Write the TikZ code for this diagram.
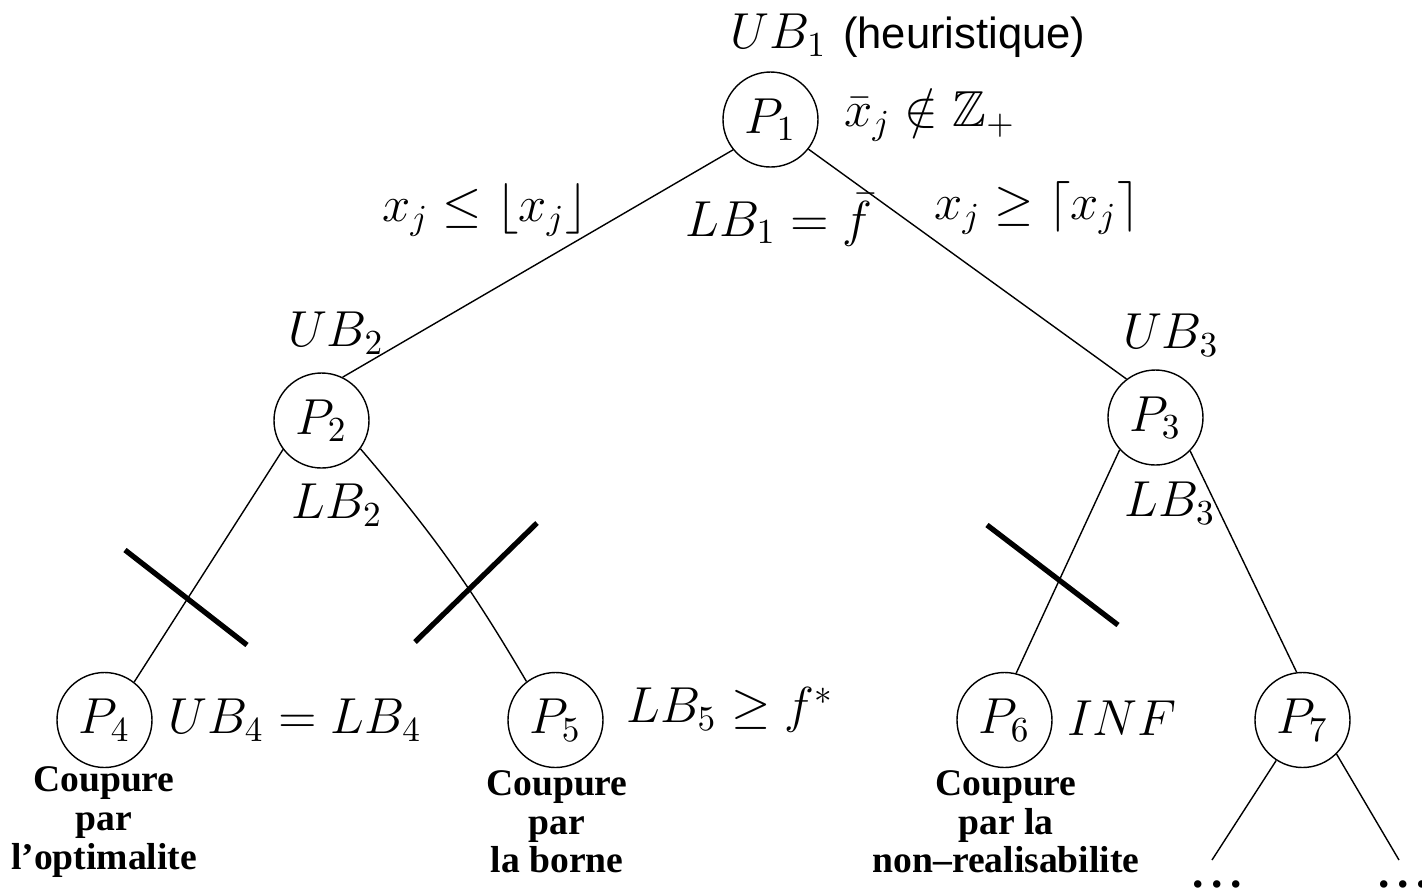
\documentclass[tikz,border=0pt]{standalone}
\usepackage{amsmath,amssymb}
\usepackage{fontspec}
\usepackage{tikz}
\usetikzlibrary{positioning}
\newfontfamily\heurfont{Liberation Sans}
\newfontfamily\cutfont{Liberation Serif}

\begin{document}
\begin{tikzpicture}[prob/.style={draw,circle,thin,minimum size=9.5mm,inner sep=0pt,font=\Large},
  lbl/.style={font=\Large,inner sep=0pt},
  cut/.style={font=\cutfont\bfseries\fontsize{10.7}{11}\selectfont,align=center,inner sep=0pt},
  cross/.style={line width=1.5pt}]
\useasboundingbox (0,0) rectangle (14.22,-8.91);
% problems
\node[prob] (P1) at (7.705,-1.195) {$P_1$};
\node[prob] (P2) at (3.215,-4.205) {$P_2$};
\node[prob] (P3) at (11.555,-4.175) {$P_3$};
\node[prob] (P4) at (1.045,-7.2) {$P_4$};
\node[prob] (P5) at (5.555,-7.2) {$P_5$};
\node[prob] (P6) at (10.045,-7.2) {$P_6$};
\node[prob] (P7) at (13.025,-7.2) {$P_7$};
\coordinate (e1) at (12.12,-8.6);
\coordinate (e2) at (13.99,-8.6);
\node[cut,font=\cutfont\bfseries\fontsize{13}{13}\selectfont] (dotsL) at (12.17,-8.84) {.\,.\,.};
\node[cut,font=\cutfont\bfseries\fontsize{13}{13}\selectfont] (dotsR) at (14.03,-8.84) {.\,.\,.};
% bounds
\node[lbl] (ub1) at (9.08,-0.36) {$UB_1$ {\heurfont\fontsize{12.4}{15}\selectfont (heuristique)}};
\node[lbl] (frac) at (9.30,-1.15) {$\bar{x}_j \notin \mathbb{Z}_+$};
\node[lbl] (brL) at (4.85,-2.1) {$x_j \leq \lfloor x_j \rfloor$};
\node[lbl] (lb1) at (7.79,-2.2) {$LB_1 = \bar{f}$};
\node[lbl] (brR) at (10.37,-2.08) {$x_j \geq \lceil x_j \rceil$};
\node[lbl] (ub2) at (3.36,-3.33) {$UB_2$};
\node[lbl] (ub3) at (11.71,-3.35) {$UB_3$};
\node[lbl] (lb2) at (3.37,-5.05) {$LB_2$};
\node[lbl] (lb3) at (11.70,-5.03) {$LB_3$};
\node[lbl] (ub4) at (2.95,-7.2) {$UB_4 = LB_4$};
\node[lbl] (lb5) at (7.30,-7.1) {$LB_5 \geq f^*$};
\node[lbl] (inf) at (11.22,-7.18) {$INF$};
% cuts
\node[cut] (cutA) at (1.04,-8.22) {Coupure\\par\\l’optimalite};
\node[cut] (cutB) at (5.57,-8.22) {Coupure\\par\\la borne};
\node[cut] (cutC) at (10.06,-8.22) {Coupure\\par la\\non–realisabilite};
% branches
\draw[thin] (P1.219) -- (P2.64);
\draw[thin] (P1.322) -- (P3.127);
\draw[thin] (P2.217) -- (P4.52);
\draw[thin] (P2.324) to[bend left=5] (P5.127);
\draw[thin] (P3.222) -- (P6.76);
\draw[thin] (P3.316) -- (P7.97);
\draw[thin] (P7.237) -- (e1);
\draw[thin] (P7.315) -- (e2);
\draw[cross] (1.25,-5.5) -- (2.47,-6.45);
\draw[cross] (4.15,-6.42) -- (5.37,-5.23);
\draw[cross] (9.87,-5.25) -- (11.18,-6.25);
\end{tikzpicture}
\end{document}
